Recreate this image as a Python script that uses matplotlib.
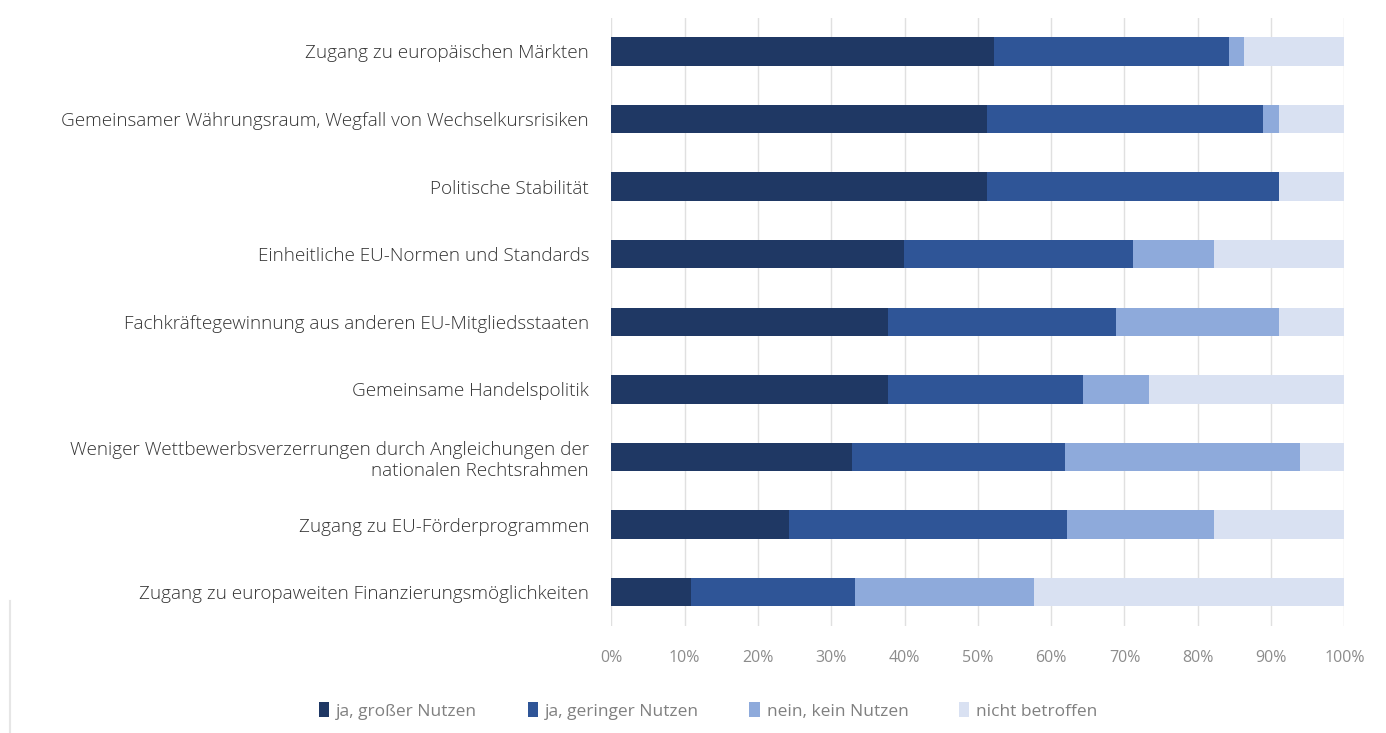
import numpy as np
import matplotlib.pyplot as plt
from matplotlib.lines import Line2D

plt.rcParams['font.family'] = ['Open Sans', 'DejaVu Sans']

categories = [
    'Zugang zu europäischen Märkten',
    'Gemeinsamer Währungsraum, Wegfall von Wechselkursrisiken',
    'Politische Stabilität',
    'Einheitliche EU-Normen und Standards',
    'Fachkräftegewinnung aus anderen EU-Mitgliedsstaaten',
    'Gemeinsame Handelspolitik',
    'Weniger Wettbewerbsverzerrungen durch Angleichungen der\nnationalen Rechtsrahmen',
    'Zugang zu EU-Förderprogrammen',
    'Zugang zu europaweiten Finanzierungsmöglichkeiten',
]
gross = [52.2, 51.3, 51.3, 39.9, 37.7, 37.7, 32.9, 24.2, 10.9]
gering = [32.0, 37.6, 39.8, 31.2, 31.2, 26.7, 29.0, 37.9, 22.4]
kein = [2.1, 2.2, 0.0, 11.1, 22.2, 8.9, 32.0, 20.1, 24.3]
nicht = [13.7, 8.9, 8.9, 17.8, 8.9, 26.7, 6.1, 17.8, 42.4]

series_names = ['ja, großer Nutzen', 'ja, geringer Nutzen', 'nein, kein Nutzen', 'nicht betroffen']
colors = ['#1f3864', '#2f5597', '#8eaadb', '#d9e1f2']

fig = plt.figure(figsize=(13.86, 7.33), dpi=100)
ax = fig.add_axes([0.441, 0.146, 0.529, 0.830])

y = np.arange(len(categories))
left = np.zeros(len(categories))
for vals, name, col in zip([gross, gering, kein, nicht], series_names, colors):
    vals = np.array(vals)
    ax.barh(y, vals, left=left, height=0.42, color=col, label=name, zorder=3)
    left += vals

ax.set_ylim(len(categories) - 0.5, -0.5)
ax.set_xlim(0, 100)
ax.set_yticks(y)
ax.set_yticklabels(categories, fontsize=13.6, color='#333333', fontweight='light')
ax.set_xticks(np.arange(0, 101, 10))
ax.set_xticklabels([f'{v}%' for v in range(0, 101, 10)], fontsize=11.5, color='#8c8c8c')
ax.tick_params(axis='both', length=0)
ax.tick_params(axis='y', pad=16)
ax.tick_params(axis='x', pad=17)
ax.grid(axis='x', color='#e0e0e0', linewidth=1, zorder=0)
for s in ax.spines.values():
    s.set_visible(False)

leg = fig.legend(loc='center', bbox_to_anchor=(0.511, 0.030), ncol=4, frameon=False,
                 fontsize=12.5, handlelength=0.6, handleheight=0.9, handletextpad=0.4,
                 columnspacing=2.9)
for t in leg.get_texts():
    t.set_color('#808080')

# faint frame edge at the bottom left, as in the screenshot
fig.add_artist(Line2D([0.007, 0.007], [0.0, 0.18], transform=fig.transFigure,
                      color='#e6e6e6', linewidth=1.5))

fig.savefig('out.png', dpi=100)
